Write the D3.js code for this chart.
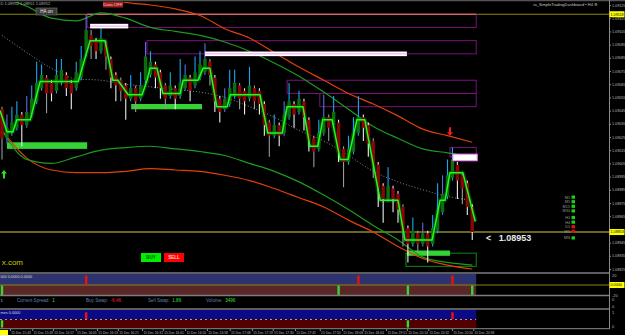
<!DOCTYPE html>
<html>
<head>
<meta charset="utf-8">
<script src="https://cdn.jsdelivr.net/npm/d3@7"></script>
<style>
  html, body { margin: 0; padding: 0; background: #000; }
  svg { display: block; font-family: "Liberation Sans", Arial, sans-serif; }
</style>
</head>
<body>
<div id="chart"></div>
<script>
// ---------- candles (heikin ashi, one per bar) ----------
const candleOpen = [1.09046,1.09024,1.09028,1.09032,1.09042,1.09034,1.09042,1.09052,1.09062,1.09070,
  1.09066,1.09060,1.09066,1.09072,1.09066,1.09062,1.09070,1.09090,1.09102,1.09098,
  1.09090,1.09096,1.09084,1.09072,1.09068,1.09064,1.09054,1.09062,1.09054,1.09068,
  1.09072,1.09080,1.09074,1.09064,1.09056,1.09062,1.09056,1.09062,1.09070,1.09064,
  1.09070,1.09074,1.09082,1.09070,1.09054,1.09046,1.09050,1.09056,1.09064,1.09060,
  1.09054,1.09062,1.09060,1.09050,1.09036,1.09026,1.09034,1.09028,1.09040,1.09050,
  1.09044,1.09052,1.09038,1.09024,1.09016,1.09028,1.09040,1.09034,1.09036,1.09016,
  1.09006,1.09014,1.09028,1.09040,1.09034,1.09022,1.09004,1.08988,1.08978,1.08986,
  1.08982,1.08972,1.08956,1.08944,1.08952,1.08944,1.08952,1.08944,1.08954,1.08968,
  1.08980,1.08994,1.09004,1.08996,1.08990,1.08972];
const candleHigh = [1.09048,1.09042,1.09048,1.09052,1.09044,1.09056,1.09064,1.09082,1.09080,1.09072,
  1.09068,1.09084,1.09084,1.09074,1.09068,1.09082,1.09094,1.09118,1.09106,1.09100,
  1.09108,1.09098,1.09086,1.09074,1.09070,1.09066,1.09072,1.09064,1.09074,1.09097,
  1.09090,1.09082,1.09076,1.09066,1.09074,1.09064,1.09084,1.09080,1.09072,1.09086,
  1.09090,1.09096,1.09084,1.09072,1.09056,1.09062,1.09076,1.09076,1.09066,1.09062,
  1.09078,1.09064,1.09062,1.09052,1.09038,1.09042,1.09036,1.09052,1.09066,1.09052,
  1.09060,1.09054,1.09040,1.09026,1.09038,1.09057,1.09042,1.09056,1.09038,1.09018,
  1.09026,1.09040,1.09056,1.09042,1.09036,1.09024,1.09006,1.08990,1.09002,1.08988,
  1.08984,1.08974,1.08958,1.08964,1.08954,1.08960,1.08954,1.08966,1.08990,1.08996,
  1.09008,1.09017,1.09006,1.08998,1.08992,1.08974];
const candleLow = [1.09008,1.09020,1.09026,1.09030,1.09018,1.09032,1.09040,1.09050,1.09060,1.09043,
  1.09052,1.09058,1.09064,1.09056,1.09046,1.09060,1.09068,1.09086,1.09084,1.09084,
  1.09088,1.09076,1.09062,1.09052,1.09052,1.09038,1.09052,1.09044,1.09052,1.09066,
  1.09070,1.09062,1.09054,1.09046,1.09054,1.09046,1.09054,1.09060,1.09052,1.09062,
  1.09068,1.09072,1.09064,1.09044,1.09036,1.09044,1.09048,1.09054,1.09046,1.09042,
  1.09052,1.09046,1.09042,1.09026,1.09010,1.09024,1.09018,1.09026,1.09038,1.09032,
  1.09042,1.09030,1.09014,1.09002,1.09014,1.09026,1.09022,1.09032,1.09006,1.08987,
  1.09004,1.09012,1.09026,1.09022,1.09010,1.08994,1.08972,1.08960,1.08976,1.08968,
  1.08960,1.08942,1.08930,1.08942,1.08938,1.08942,1.08930,1.08942,1.08952,1.08966,
  1.08978,1.08992,1.08978,1.08974,1.08966,1.08947];
const candleClose = [1.09024,1.09032,1.09036,1.09042,1.09034,1.09044,1.09054,1.09066,1.09072,1.09058,
  1.09058,1.09072,1.09076,1.09062,1.09058,1.09074,1.09084,1.09106,1.09094,1.09090,
  1.09100,1.09086,1.09070,1.09064,1.09060,1.09054,1.09062,1.09052,1.09064,1.09086,
  1.09082,1.09070,1.09062,1.09054,1.09064,1.09054,1.09066,1.09072,1.09060,1.09074,
  1.09080,1.09084,1.09072,1.09052,1.09044,1.09054,1.09062,1.09066,1.09054,1.09052,
  1.09064,1.09052,1.09050,1.09034,1.09026,1.09034,1.09026,1.09042,1.09052,1.09042,
  1.09054,1.09040,1.09022,1.09014,1.09028,1.09040,1.09032,1.09044,1.09014,1.09006,
  1.09016,1.09028,1.09040,1.09032,1.09020,1.09004,1.08986,1.08978,1.08988,1.08978,
  1.08970,1.08954,1.08944,1.08954,1.08944,1.08952,1.08942,1.08956,1.08970,1.08982,
  1.08996,1.09008,1.08992,1.08986,1.08972,1.08953];

// ---------- step trend line ----------
const stepIdx = [-0.4,1.0,2.2,3.0,5.7,7.7,15.4,17.8,20.8,22.4,23.4,25.5,28.3,29.3,29.9,31.3,32.5,36.0,36.6,39.6,
  40.6,42.0,43.4,45.5,46.1,52.1,53.7,56.6,57.6,60.8,62.2,63.8,64.8,66.7,68.3,69.9,71.7,73.3,76.4,80.0,
  81.4,86.9,88.5,89.5,90.5,93.1,95.6];
const stepPrice = [1.09045,1.09029,1.09029,1.09038,1.09038,1.09067,1.09067,1.09098,1.09098,1.09068,
  1.09068,1.09057,1.09057,1.09068,1.09077,1.09077,1.09058,1.09058,1.09068,1.09068,
  1.09077,1.09077,1.09048,1.09048,1.09057,1.09057,1.09028,1.09028,1.09048,1.09048,
  1.09018,1.09018,1.09038,1.09038,1.09008,1.09008,1.09038,1.09038,1.08977,1.08977,
  1.08947,1.08947,1.08977,1.08977,1.08998,1.08998,1.08961];

// ---------- moving averages (sampled every 5 bars) ----------
const maIdx = [0,5,10,15,20,25,30,35,40,45,50,55,60,65,70,75,80,85,90,95];
const maUpperRed = [1.09160,1.09152,1.09145,1.09138,1.09131,1.09127,1.09125,1.09122,1.09117,1.09107,
  1.09100,1.09089,1.09078,1.09068,1.09058,1.09050,1.09041,1.09031,1.09026,1.09021];
const maUpperGreen = [1.09131,1.09124,1.09115,1.09113,1.09119,1.09115,1.09108,1.09105,1.09102,1.09097,
  1.09090,1.09081,1.09071,1.09059,1.09046,1.09033,1.09024,1.09016,1.09013,1.09010];
const maSlow = [1.09102,1.09089,1.09077,1.09069,1.09068,1.09065,1.09063,1.09061,1.09059,1.09055,
  1.09048,1.09040,1.09030,1.09022,1.09011,1.08999,1.08991,1.08985,1.08980,1.08977];
const maLowerGreen = [1.09030,1.09008,1.09005,1.09010,1.09015,1.09017,1.09018,1.09016,1.09014,1.09011,
  1.09005,1.08999,1.08991,1.08981,1.08970,1.08958,1.08947,1.08934,1.08930,1.08928];
const maLowerRed = [1.09030,1.09009,1.09000,1.08998,1.08998,1.08999,1.09001,1.09000,1.08999,1.08996,
  1.08992,1.08986,1.08979,1.08972,1.08962,1.08953,1.08942,1.08933,1.08928,1.08925];

// ---------- zones ----------
const zoneEnd = 95.8;
const supplyStart = [17.2, 29.3, 57.6, 64.2, 90.5];
const supplyTop = [1.09118, 1.09098, 1.09068, 1.09058, 1.09017];
const supplyBottom = [1.09108, 1.09088, 1.09058, 1.09048, 1.09010];
const labelStart = [17.8, 41.0];
const labelEnd = [25.5, 81.8];
const labelPrice = [1.09109, 1.09088];
const boxStart = 91.1, boxEnd = 96.0, boxTop = 1.09012, boxBottom = 1.09007;
const demandStart = [1.0, 26.1, 81.8];
const demandEnd = [17.2, 40.4, 90.5];
const demandTop = [1.09021, 1.09050, 1.08939];
const demandBottom = [1.09016, 1.09046, 1.08935];
const demandBoxStart = 81.6, demandBoxTop = 1.08937, demandBoxBottom = 1.08927;

const highLevel = 1.09118;
const lastPrice = 1.08953;
const buyArrow = [0.4, 1.09000];
const sellArrow = [90.5, 1.09026];

// ---------- axes ----------
const priceTicks = [1.09125,1.09115,1.09105,1.09095,1.09085,1.09075,1.09065,1.09055,1.09045,1.09035,
  1.09025,1.09015,1.09005,1.08995,1.08985,1.08975,1.08965,1.08955,1.08945,1.08935,1.08925];
const timeIdx = [1.6,6.1,10.3,14.9,19.2,23.4,28.3,32.5,37.0,41.4,46.0,50.5,54.7,59.2,64.2,68.7,72.9,77.6,81.8,86.1,90.9,95.2];
const timeLabels = ["15 Dec 15:43","15 Dec 15:49","15 Dec 15:57","15 Dec 16:05","15 Dec 16:13","15 Dec 16:21",
  "15 Dec 16:31","15 Dec 16:41","15 Dec 16:50","15 Dec 16:58","15 Dec 17:08","15 Dec 17:19","15 Dec 17:30",
  "15 Dec 17:41","15 Dec 17:50","15 Dec 18:08","15 Dec 18:44","15 Dec 19:51","15 Dec 20:14","15 Dec 20:32",
  "15 Dec 20:50","15 Dec 20:58"];

// ---------- sub windows ----------
const osc1Sell = [17, 72, 91];
const osc1Buy = [0, 68, 82, 95];
const osc2Sell = [17, 91];
const osc2Buy = [0, 82];
const infoLabels = ["Current Spread:", "Buy Swap:", "Sell Swap:", "Volume:"];
const infoValues = ["1", "-6.46", "1.86", "3496"];
const dashLabels = ["M1","M5","M15","M30","H1","H4","D1","W1","MN"];
const dashState = [1,1,1,1,1,1,-1,-1,1];

// =====================================================
const W = 625, H = 335, axisX = 609;
const svg = d3.select("#chart").append("svg")
  .attr("width", W).attr("height", H)
  .style("background", "#000");

const x = d3.scaleLinear().domain([0, 95]).range([2, 472.25]);
const y = d3.scaleLinear().domain([1.08925, 1.09125]).range([269, 5]);

svg.append("defs").append("clipPath").attr("id", "mainClip")
  .append("rect").attr("x", 0).attr("y", 2).attr("width", axisX).attr("height", 268);

const main = svg.append("g").attr("clip-path", "url(#mainClip)");

// horizontal levels
main.append("line").attr("x1", 0).attr("x2", axisX)
  .attr("y1", y(highLevel)).attr("y2", y(highLevel))
  .attr("stroke", "#8c8a10").attr("stroke-width", 1.2);
main.append("line").attr("x1", 0).attr("x2", axisX)
  .attr("y1", y(lastPrice)).attr("y2", y(lastPrice))
  .attr("stroke", "#8c8a30").attr("stroke-width", 1.5);

// supply zones
const supply = supplyStart.map((s, i) => ({s, t: supplyTop[i], b: supplyBottom[i]}));
main.selectAll("rect.supply").data(supply).join("rect")
  .attr("class", "supply")
  .attr("x", d => x(d.s)).attr("width", d => x(zoneEnd) - x(d.s))
  .attr("y", d => y(d.t)).attr("height", d => y(d.b) - y(d.t))
  .attr("fill", "none").attr("stroke", "#7a127a").attr("stroke-width", 1);
main.append("line")
  .attr("x1", x(supplyStart[0])).attr("x2", x(zoneEnd))
  .attr("y1", y(supplyTop[0])).attr("y2", y(supplyTop[0]))
  .attr("stroke", "#f07a6a").attr("stroke-width", 1.2);

// demand zones
main.append("rect")
  .attr("x", x(demandBoxStart)).attr("width", x(zoneEnd) - x(demandBoxStart))
  .attr("y", y(demandBoxTop)).attr("height", y(demandBoxBottom) - y(demandBoxTop))
  .attr("fill", "none").attr("stroke", "#0c8a0c").attr("stroke-width", 1);
const demand = demandStart.map((s, i) => ({s, e: demandEnd[i], t: demandTop[i], b: demandBottom[i]}));
main.selectAll("rect.demand").data(demand).join("rect")
  .attr("class", "demand")
  .attr("x", d => x(d.s)).attr("width", d => x(d.e) - x(d.s))
  .attr("y", d => y(d.t)).attr("height", d => y(d.b) - y(d.t))
  .attr("fill", "#36d336");

// moving averages
const maLine = vals => d3.line().curve(d3.curveMonotoneX)
  .x((d, i) => x(maIdx[i])).y(d => y(d))(vals);
main.append("path").attr("d", maLine(maSlow))
  .attr("fill", "none").attr("stroke", "#8a8a8a").attr("stroke-width", 1)
  .attr("stroke-dasharray", "1,2");
[[maLowerRed, "#e0400a"], [maLowerGreen, "#1e9a1e"], [maUpperGreen, "#1e9a1e"], [maUpperRed, "#e0400a"]]
  .forEach(([vals, col]) => {
    main.append("path").attr("d", maLine(vals))
      .attr("fill", "none").attr("stroke", col).attr("stroke-width", 1.2);
  });

// step line shadow
const stepPts = stepIdx.map((d, i) => [d, stepPrice[i]]);
const stepLine = d3.line().x(d => x(d[0])).y(d => y(d[1]));
main.append("path").attr("d", stepLine(stepPts))
  .attr("fill", "none").attr("stroke", "#0b5e0b").attr("stroke-width", 4.5)
  .attr("stroke-linejoin", "round").attr("opacity", 0.6);

// candles
const candles = candleOpen.map((o, i) => ({i, o, h: candleHigh[i], l: candleLow[i], c: candleClose[i]}));
main.selectAll("line.wick").data(candles).join("line")
  .attr("class", "wick")
  .attr("x1", d => x(d.i)).attr("x2", d => x(d.i))
  .attr("y1", d => y(d.h)).attr("y2", d => y(d.l))
  .attr("stroke", d => d.c >= d.o ? (d.i % 4 === 1 ? "#5a6ee8" : "#1aa6f0") : (d.i % 3 === 0 ? "#9a9a9a" : "#ededed"))
  .attr("stroke-width", 1.1);
main.selectAll("rect.body").data(candles).join("rect")
  .attr("class", "body")
  .attr("x", d => x(d.i) - 1.7).attr("width", 3.4)
  .attr("y", d => y(Math.max(d.o, d.c)))
  .attr("height", d => Math.max(1, y(Math.min(d.o, d.c)) - y(Math.max(d.o, d.c))))
  .attr("fill", d => d.c >= d.o ? "#0d6e0d" : "#8a0606");

// step line
main.append("path").attr("d", stepLine(stepPts))
  .attr("fill", "none").attr("stroke", "#1cff1c").attr("stroke-width", 1.5)
  .attr("stroke-linejoin", "round");

// white level labels
const labels = labelStart.map((s, i) => ({s, e: labelEnd[i], p: labelPrice[i]}));
main.selectAll("rect.lbl").data(labels).join("rect")
  .attr("class", "lbl")
  .attr("x", d => x(d.s)).attr("width", d => x(d.e) - x(d.s))
  .attr("y", d => y(d.p) - 2.3).attr("height", 4.6)
  .attr("fill", "#ffffff");
main.selectAll("line.lbl").data(labels).join("line")
  .attr("class", "lbl")
  .attr("x1", d => x(d.s)).attr("x2", d => x(d.e))
  .attr("y1", d => y(d.p)).attr("y2", d => y(d.p))
  .attr("stroke", "#ff7cff").attr("stroke-width", 0.8);
main.append("rect")
  .attr("x", x(boxStart)).attr("width", x(boxEnd) - x(boxStart))
  .attr("y", y(boxTop)).attr("height", y(boxBottom) - y(boxTop))
  .attr("fill", "#ffffff").attr("stroke", "#ff80ff").attr("stroke-width", 1);

// arrows
const ax = x(buyArrow[0]), ay = y(buyArrow[1]);
main.append("path")
  .attr("d", `M${ax},${ay} l-3,3.5 h2 v5 h2 v-5 h2 z`)
  .attr("fill", "#22e622");
const sx = x(sellArrow[0]), sy = y(sellArrow[1]);
main.append("path")
  .attr("d", `M${sx},${sy} l-3,-3.5 h2 v-5 h2 v5 h2 z`)
  .attr("fill", "#ff1a1a");

// last price text
svg.append("text").attr("x", 486).attr("y", y(lastPrice) + 8.5)
  .attr("fill", "#e8e8e8").attr("font-size", 9).attr("font-weight", "bold")
  .style("white-space", "pre")
  .text("<   " + lastPrice.toFixed(5));

// top text, buttons
svg.append("line").attr("x1", 0).attr("x2", W).attr("y1", 0.5).attr("y2", 0.5)
  .attr("stroke", "#555").attr("stroke-width", 1.5);
svg.append("text").attr("x", 0.5).attr("y", 5)
  .attr("fill", "#b0b0b0").attr("font-size", 4)
  .text("D 1.08952 1.08951 1.08952");
svg.append("rect").attr("x", 36).attr("y", 8).attr("width", 21).attr("height", 7)
  .attr("fill", "#3a3a3a").attr("stroke", "#777").attr("stroke-width", 0.6);
svg.append("text").attr("x", 46.5).attr("y", 13).attr("text-anchor", "middle")
  .attr("fill", "#e8e8e8").attr("font-size", 4.6).text("HA on");
svg.append("rect").attr("x", 103).attr("y", 1.5).attr("width", 20).attr("height", 6)
  .attr("fill", "#9a2222");
svg.append("text").attr("x", 113).attr("y", 6.2).attr("text-anchor", "middle")
  .attr("fill", "#ffc0c0").attr("font-size", 4.4).text("Data OFF");
svg.append("text").attr("x", 598).attr("y", 6).attr("text-anchor", "end")
  .attr("fill", "#c8c8c8").attr("font-size", 4).text("ra_SimpleTradingDashboard • H4 ⚙");

svg.append("text").attr("x", 23).attr("y", 265).attr("text-anchor", "end")
  .attr("fill", "#c8c800").attr("font-size", 8).text("x.com");
svg.append("rect").attr("x", 141).attr("y", 253).attr("width", 20).attr("height", 9).attr("fill", "#00ee00");
svg.append("text").attr("x", 151).attr("y", 259.3).attr("text-anchor", "middle")
  .attr("fill", "#005000").attr("font-size", 4.5).attr("font-weight", "bold").text("BUY");
svg.append("rect").attr("x", 164).attr("y", 253).attr("width", 20).attr("height", 9).attr("fill", "#ff0000");
svg.append("text").attr("x", 174).attr("y", 259.3).attr("text-anchor", "middle")
  .attr("fill", "#ffd0d0").attr("font-size", 4.5).attr("font-weight", "bold").text("SELL");

// small dashboard
const dash = svg.append("g");
dashLabels.forEach((lab, i) => {
  const yy = 196 + i * 4.6 + Math.floor(i / 4) * 2;
  dash.append("text").attr("x", 570).attr("y", yy + 2.5).attr("text-anchor", "end")
    .attr("fill", "#9a9a9a").attr("font-size", 3.8).text(lab);
  dash.append("rect").attr("x", 571.5).attr("y", yy - 0.5).attr("width", 3.5).attr("height", 3.2)
    .attr("fill", dashState[i] > 0 ? "#18d018" : "#e01010");
});

// right price axis
svg.append("line").attr("x1", axisX + 0.5).attr("x2", axisX + 0.5).attr("y1", 0).attr("y2", 329)
  .attr("stroke", "#8a8a8a").attr("stroke-width", 1);
const shownTicks = priceTicks.filter(p => Math.abs(y(p) - y(lastPrice)) > 3 && Math.abs(y(p) - y(highLevel)) > 3);
const yAxis = svg.append("g").attr("transform", `translate(${axisX},0)`)
  .call(d3.axisRight(y).tickValues(shownTicks).tickSize(2).tickFormat(d3.format(".5f")));
yAxis.select(".domain").remove();
yAxis.selectAll("line").attr("stroke", "#8a8a8a");
yAxis.selectAll("text").attr("fill", "#bdbdbd").attr("font-size", 3.7).attr("x", 3)
  .attr("font-family", "Liberation Sans, Arial, sans-serif");

function yellowTag(py, txt) {
  svg.append("rect").attr("x", axisX + 0.5).attr("y", py - 3).attr("width", 15).attr("height", 6)
    .attr("fill", "#ffff00");
  svg.append("text").attr("x", axisX + 1.5).attr("y", py + 1.4)
    .attr("fill", "#000").attr("font-size", 3.7).text(txt);
}
yellowTag(y(highLevel), highLevel.toFixed(5));
yellowTag(y(lastPrice), lastPrice.toFixed(5));

// ---------- sub window 1 ----------
const xEnd = x(zoneEnd);
const o1 = d3.scaleLinear().domain([-22, 22]).range([296, 274]);
svg.append("line").attr("x1", 0).attr("x2", axisX).attr("y1", 273).attr("y2", 273).attr("stroke", "#7c7c7c").attr("stroke-width", 1.6);
svg.append("rect").attr("x", 0).attr("y", 274).attr("width", xEnd).attr("height", o1(0) - 274).attr("fill", "#2d336e");
svg.append("rect").attr("x", 0).attr("y", o1(0)).attr("width", xEnd).attr("height", 295 - o1(0)).attr("fill", "#5a2626");
svg.append("line").attr("x1", 0).attr("x2", axisX).attr("y1", o1(0)).attr("y2", o1(0)).attr("stroke", "#8a8410").attr("stroke-width", 1);
svg.selectAll("rect.s1").data(osc1Sell).join("rect").attr("class", "s1")
  .attr("x", d => x(d) - 1.2).attr("width", 2.4).attr("y", o1(19)).attr("height", o1(0) - o1(19)).attr("fill", "#ee1010");
svg.selectAll("rect.b1").data(osc1Buy).join("rect").attr("class", "b1")
  .attr("x", d => x(d) - 1.2).attr("width", 2.4).attr("y", o1(0) + 0.5).attr("height", o1(-19) - o1(0)).attr("fill", "#3ad23a");
svg.append("line").attr("x1", 0).attr("x2", axisX).attr("y1", 295.5).attr("y2", 295.5).attr("stroke", "#7c7c7c").attr("stroke-width", 1.6);
svg.append("text").attr("x", 0.5).attr("y", 277.5).attr("fill", "#d8d8d8").attr("font-size", 3.8).text("000 0.0000 0.0000");
[[20, "20"], [-20, "-20"]].forEach(([v, t]) => {
  svg.append("text").attr("x", axisX + 3).attr("y", o1(v) + 1.5).attr("fill", "#bdbdbd").attr("font-size", 3.9).text(t);
});
yellowTag(o1(0), "0.0000");

// info row
const infoX = [17, 86, 148, 206];
const infoCol = ["#2ee02e", "#ff2020", "#2ee02e", "#2ee02e"];
svg.append("text").attr("x", 0.5).attr("y", 302).attr("fill", "#bdbdbd").attr("font-size", 4.2).text("1");
infoLabels.forEach((t, i) => {
  const tx = svg.append("text").attr("x", infoX[i]).attr("y", 302).attr("font-size", 4.6)
    .style("white-space", "pre");
  tx.append("tspan").attr("fill", "#5d7fae").text(t + "  ");
  tx.append("tspan").attr("fill", infoCol[i]).text(infoValues[i]);
});
svg.append("text").attr("x", axisX + 3).attr("y", 300.5).attr("fill", "#bdbdbd").attr("font-size", 3.9).text("0");
svg.append("text").attr("x", axisX + 3).attr("y", 307.5).attr("fill", "#bdbdbd").attr("font-size", 3.9).text("0");

// ---------- sub window 2 ----------
const o2 = d3.scaleLinear().domain([-1, 1]).range([328, 311]);
svg.append("line").attr("x1", 0).attr("x2", axisX).attr("y1", 309).attr("y2", 309).attr("stroke", "#7c7c7c").attr("stroke-width", 1.6);
svg.append("rect").attr("x", 0).attr("y", 310).attr("width", xEnd).attr("height", o2(0) - 310).attr("fill", "#0b0b86");
svg.append("rect").attr("x", 0).attr("y", o2(0)).attr("width", xEnd).attr("height", 328 - o2(0)).attr("fill", "#520000");
svg.append("line").attr("x1", 0).attr("x2", xEnd).attr("y1", o2(0)).attr("y2", o2(0))
  .attr("stroke", "#c8c8c8").attr("stroke-width", 0.8).attr("stroke-dasharray", "2,3");
svg.selectAll("rect.s2").data(osc2Sell).join("rect").attr("class", "s2")
  .attr("x", d => x(d) - 1.2).attr("width", 2.4).attr("y", o2(0.85)).attr("height", o2(0) - o2(0.85) - 0.5).attr("fill", "#ee1010");
svg.selectAll("rect.b2").data(osc2Buy).join("rect").attr("class", "b2")
  .attr("x", d => x(d) - 1.2).attr("width", 2.4).attr("y", o2(0) + 0.8).attr("height", o2(-0.85) - o2(0)).attr("fill", "#2ee02e");
svg.append("text").attr("x", 0.5).attr("y", 313.5).attr("fill", "#d8d8d8").attr("font-size", 3.8).text("mes 0.0000");
svg.append("text").attr("x", axisX + 3).attr("y", 313.5).attr("fill", "#bdbdbd").attr("font-size", 3.9).text("1");
svg.append("text").attr("x", axisX + 3).attr("y", 327.5).attr("fill", "#bdbdbd").attr("font-size", 3.9).text("0");
svg.append("line").attr("x1", 0).attr("x2", axisX).attr("y1", 328.7).attr("y2", 328.7).attr("stroke", "#8a8a8a").attr("stroke-width", 1);

// ---------- time axis ----------
const xAxis = svg.append("g").attr("transform", "translate(0,329)")
  .call(d3.axisBottom(x).tickValues(timeIdx).tickSize(2).tickFormat((d, i) => timeLabels[i]));
xAxis.select(".domain").remove();
xAxis.selectAll("line").attr("stroke", "#8a8a8a");
xAxis.selectAll("text").attr("fill", "#bdbdbd").attr("font-size", 3.3)
  .attr("font-family", "Liberation Sans, Arial, sans-serif")
  .attr("text-anchor", "start").attr("dx", 0.8).attr("y", 1.6).attr("dy", "0.9em");
svg.append("rect").attr("x", 0).attr("y", 330).attr("width", 8).attr("height", 5).attr("fill", "#ffff00");
</script>
</body>
</html>
